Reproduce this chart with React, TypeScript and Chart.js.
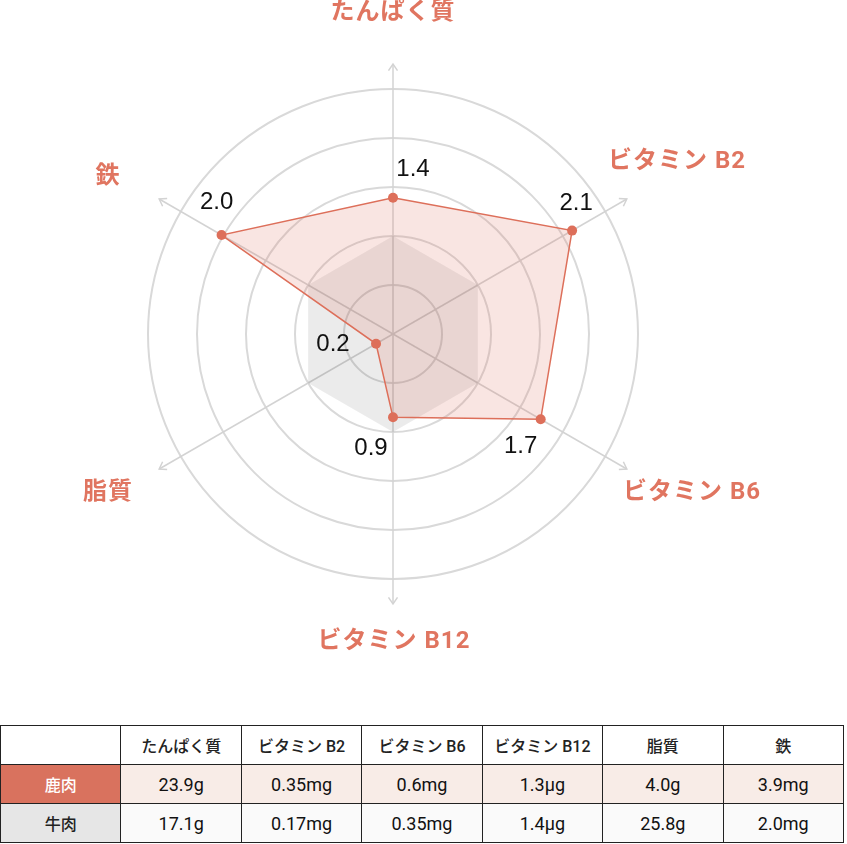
import React, { useEffect, useRef } from "react";
import { Chart, registerables } from "chart.js";

Chart.register(...registerables);

// ---- data ----
const categories = ["たんぱく質", "ビタミン B2", "ビタミン B6", "ビタミン B12", "脂質", "鉄"];
const venisonRatio = [1.39, 2.11, 1.74, 0.85, 0.2, 2.02];
const beefRatio = [1, 1, 1, 1, 1, 1];
const ratioLabels = ["1.4", "2.1", "1.7", "0.9", "0.2", "2.0"];
const rowNames = ["鹿肉", "牛肉"];
const venisonAmounts = ["23.9g", "0.35mg", "0.6mg", "1.3μg", "4.0g", "3.9mg"];
const beefAmounts = ["17.1g", "0.17mg", "0.35mg", "1.4μg", "25.8g", "2.0mg"];
const scaleMax = 2.5;
const scaleStep = 0.5;

// ---- layout helpers (not data) ----
const pointLabelOffsets: [number, number, CanvasTextAlign][] = [
  [0, -321, "center"],
  [215, -172, "left"],
  [230, 159, "left"],
  [1, 308, "center"],
  [-285, 159, "center"],
  [-285, -157, "center"],
];
const valueLabelOffsets: [number, number][] = [
  [20, -28],
  [4, -27],
  [-20, 27],
  [-22, 31],
  [-43, 1],
  [-5, -33],
];

const SALMON = "#dd6f5a";
const LABEL_COLOR = "#e07560";

const axisArrowPlugin = {
  id: "axisArrows",
  beforeDatasetsDraw(chart: any) {
    const scale = chart.scales.r;
    const ctx = chart.ctx;
    const n = categories.length;
    const len = scale.drawingArea + 25;
    ctx.save();
    ctx.strokeStyle = "#d3d3d3";
    ctx.lineWidth = 1.5;
    for (let i = 0; i < n; i++) {
      const p = scale.getPointPosition(i, len);
      ctx.beginPath();
      ctx.moveTo(scale.xCenter, scale.yCenter);
      ctx.lineTo(p.x, p.y);
      ctx.stroke();
      const a = p.angle;
      const head = 8;
      ctx.beginPath();
      ctx.moveTo(p.x - head * Math.cos(a - 0.6), p.y - head * Math.sin(a - 0.6));
      ctx.lineTo(p.x, p.y);
      ctx.lineTo(p.x - head * Math.cos(a + 0.6), p.y - head * Math.sin(a + 0.6));
      ctx.stroke();
    }
    ctx.restore();
  },
};

const labelsPlugin = {
  id: "customLabels",
  afterDatasetsDraw(chart: any) {
    const scale = chart.scales.r;
    const ctx = chart.ctx;
    ctx.save();
    ctx.textBaseline = "middle";
    ctx.fillStyle = LABEL_COLOR;
    ctx.font = "bold 24px Roboto, 'Noto Sans CJK JP', sans-serif";
    try {
      (ctx as any).letterSpacing = "1px";
    } catch (e) {}
    categories.forEach((c, i) => {
      const [dx, dy, align] = pointLabelOffsets[i];
      ctx.textAlign = align;
      ctx.fillText(c, scale.xCenter + dx, scale.yCenter + dy);
    });
    try {
      (ctx as any).letterSpacing = "0px";
    } catch (e) {}
    const meta = chart.getDatasetMeta(0);
    ctx.fillStyle = "#111";
    ctx.textAlign = "center";
    ctx.font = "24px 'Liberation Sans', Arial, sans-serif";
    meta.data.forEach((el: any, i: number) => {
      const [dx, dy] = valueLabelOffsets[i];
      ctx.fillText(ratioLabels[i], el.x + dx, el.y + dy);
    });
    ctx.restore();
  },
};

function RadarChart() {
  const ref = useRef<HTMLCanvasElement>(null);
  useEffect(() => {
    if (!ref.current) return;
    const chart = new Chart(ref.current, {
      type: "radar",
      data: {
        labels: categories,
        datasets: [
          {
            label: "鹿肉",
            data: venisonRatio,
            backgroundColor: "rgba(224,112,96,0.18)",
            borderColor: SALMON,
            borderWidth: 1.5,
            pointBackgroundColor: SALMON,
            pointBorderColor: SALMON,
            pointRadius: 5,
            pointBorderWidth: 0,
            fill: true,
          },
          {
            label: "牛肉",
            data: beefRatio,
            backgroundColor: "rgba(0,0,0,0.08)",
            borderWidth: 0,
            borderColor: "rgba(0,0,0,0)",
            pointRadius: 0,
            fill: true,
          },
        ],
      },
      options: {
        responsive: false,
        animation: false,
        layout: { padding: { left: 148, top: 89, right: 209, bottom: 146 } },
        plugins: { legend: { display: false }, tooltip: { enabled: false } },
        elements: { line: { tension: 0 } },
        scales: {
          r: {
            min: 0,
            max: scaleMax,
            ticks: { display: false, stepSize: scaleStep },
            pointLabels: { display: false },
            angleLines: { display: false },
            grid: { color: "#d9d9d9", lineWidth: 2, circular: true },
          },
        },
      },
      plugins: [axisArrowPlugin, labelsPlugin],
    });
    return () => chart.destroy();
  }, []);
  return <canvas ref={ref} width={847} height={725} style={{ display: "block" }} />;
}

export default function App() {
  useEffect(() => {
    document.body.style.margin = "0";
  }, []);
  const cellBase: React.CSSProperties = {
    border: "1px solid #222",
    height: 38,
    padding: 0,
    textAlign: "center",
    verticalAlign: "middle",
    fontSize: 16,
    fontWeight: 500,
    color: "#222",
  };
  const numCell: React.CSSProperties = {
    ...cellBase,
    fontFamily: "Roboto, 'Noto Sans CJK JP', sans-serif",
    fontSize: 18,
    fontWeight: 400,
    color: "#111",
  };
  const rows = [
    { name: rowNames[0], values: venisonAmounts, head: "#d9725e", headColor: "#fff", bg: "#f8ece7" },
    { name: rowNames[1], values: beefAmounts, head: "#e6e6e6", headColor: "#222", bg: "#fafafa" },
  ];
  return (
    <div style={{ width: 847, fontFamily: "Roboto, 'Noto Sans CJK JP', 'Noto Sans', sans-serif" }}>
      <RadarChart />
      <table
        style={{
          borderCollapse: "collapse",
          tableLayout: "fixed",
          width: 844,
          marginLeft: 0,
        }}
      >
        <tbody>
          <tr>
            <td style={{ ...cellBase, background: "#fff" }}></td>
            {categories.map((c) => (
              <td key={c} style={{ ...cellBase, background: "#fff" }}>
                {c}
              </td>
            ))}
          </tr>
          {rows.map((r) => (
            <tr key={r.name}>
              <td style={{ ...cellBase, background: r.head, color: r.headColor }}>{r.name}</td>
              {r.values.map((v, i) => (
                <td key={i} style={{ ...numCell, background: r.bg }}>
                  {v}
                </td>
              ))}
            </tr>
          ))}
        </tbody>
      </table>
    </div>
  );
}
